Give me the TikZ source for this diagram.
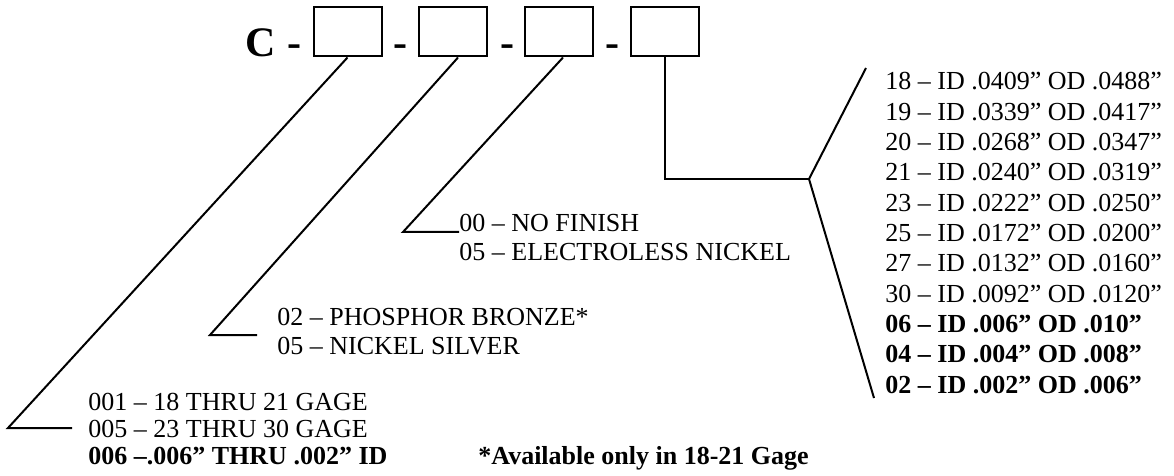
\documentclass[tikz,border=0pt]{standalone}
\usepackage{fontspec}
\setmainfont{Liberation Serif}
\begin{document}
\begin{tikzpicture}[x=0.5pt, y=-0.5pt,
    codebox/.style={draw, line width=1pt, minimum width=34pt, minimum height=24.5pt, inner sep=0pt},
    lead/.style={line width=1pt},
    item/.style={anchor=base west, inner sep=0pt, font=\fontsize{13}{15}\selectfont},
    bitem/.style={item, font=\fontsize{13}{15}\selectfont\bfseries},
    big/.style={anchor=base, inner sep=0pt, font=\fontsize{21}{24}\selectfont\bfseries}]
    \useasboundingbox (0,0) rectangle (1174,476);

    % Part number C - [] - [] - [] - []
    \node[big] (pre) at (261,57) {C};
    \node[big] (d1) at (294,57) {-};
    \node[codebox] (box1) at (347.5,32) {};
    \node[big] (d2) at (400,57) {-};
    \node[codebox] (box2) at (452.5,32) {};
    \node[big] (d3) at (507,57) {-};
    \node[codebox] (box3) at (559,32) {};
    \node[big] (d4) at (612,57) {-};
    \node[codebox] (box4) at (665,32) {};

    % Gage codes
    \node[item] (g001) at (88,410) {001 – 18 THRU 21 GAGE};
    \node[item] (g005) at (88,437) {005 – 23 THRU 30 GAGE};
    \node[bitem] (g006) at (88,464) {006 –.006” THRU .002” ID};
    \coordinate (kink1) at (8,428);
    \coordinate (end1) at (72,428);
    \draw[lead] (box1.south) -- (kink1) -- (end1);

    % Material
    \node[item] (m02) at (277,325) {02 – PHOSPHOR BRONZE*};
    \node[item] (m05) at (277,354) {05 – NICKEL SILVER};
    \coordinate (kink2) at (210,335);
    \coordinate (end2) at (257,335);
    \draw[lead] ([xshift=2.75pt]box2.south) -- (kink2) -- (end2);

    % Finish
    \node[item] (f00) at (459,232) {00 – NO FINISH};
    \node[item] (f05) at (459,261) {05 – ELECTROLESS NICKEL};
    \coordinate (kink3) at (403,232);
    \draw[lead] ([xshift=2pt]box3.south) -- (kink3) -- (f00.base west);

    % Sizes
    \node[item] (s18) at (885,90) {18 – ID .0409” OD .0488”};
    \node[item] (s19) at (885,120.3) {19 – ID .0339” OD .0417”};
    \node[item] (s20) at (885,150.6) {20 – ID .0268” OD .0347”};
    \node[item] (s21) at (885,180.9) {21 – ID .0240” OD .0319”};
    \node[item] (s23) at (885,211.2) {23 – ID .0222” OD .0250”};
    \node[item] (s25) at (885,241.5) {25 – ID .0172” OD .0200”};
    \node[item] (s27) at (885,271.8) {27 – ID .0132” OD .0160”};
    \node[item] (s30) at (885,302.1) {30 – ID .0092” OD .0120”};
    \node[bitem] (s06) at (885,332.4) {06 – ID .006” OD .010”};
    \node[bitem] (s04) at (885,362.7) {04 – ID .004” OD .008”};
    \node[bitem] (s02) at (885,393) {02 – ID .002” OD .006”};
    \coordinate (fork) at (809,179);
    \coordinate (forkup) at (866,68);
    \coordinate (forkdn) at (874,398);
    \draw[lead] (box4.south) |- (fork);
    \draw[lead] (forkup) -- (fork) -- (forkdn);

    % Footnote
    \node[bitem] (note) at (478,464) {*Available only in 18-21 Gage};
\end{tikzpicture}
\end{document}
